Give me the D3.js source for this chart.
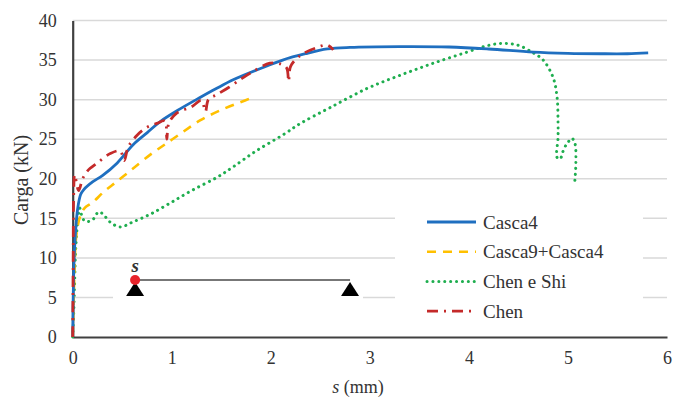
<!DOCTYPE html>
<html><head><meta charset="utf-8">
<script src="https://cdn.jsdelivr.net/npm/d3@7"></script>
<style>body{margin:0;background:#fff}svg{display:block}</style>
</head><body><svg id="c" width="673" height="400"></svg>
<script>
const xTicks=[0,1,2,3,4,5,6];
const yTicks=[0,5,10,15,20,25,30,35,40];
const seriesNames=["Casca4","Casca9+Casca4","Chen e Shi","Chen"];
const casca4=[[0,0],[0.005,5],[0.015,10],[0.03,13.5],[0.05,16.2],[0.08,18],[0.11,18.6],[0.2,19.6],[0.3,20.4],[0.45,22],[0.61,24.3],[0.75,25.8],[0.88,27.2],[1.08,28.8],[1.29,30.3],[1.45,31.4],[1.62,32.5],[1.89,33.9],[2.12,35],[2.35,35.8],[2.57,36.4],[2.8,36.6],[3.3,36.7],[3.8,36.65],[4.2,36.4],[4.65,36.0],[5.0,35.85],[5.33,35.8],[5.6,35.8],[5.81,35.9]];
const casca9=[[0,0],[0.01,5],[0.02,9],[0.03,12],[0.05,14],[0.08,15.4],[0.12,16.3],[0.2,17.0],[0.31,18.3],[0.4,19.2],[0.48,20.0],[0.6,21.2],[0.8,23.2],[0.95,24.5],[1.1,25.8],[1.29,27.4],[1.5,28.7],[1.74,29.9],[1.78,30.1]];
const chenShi=[[0,0],[0.01,3],[0.02,7],[0.03,11],[0.05,14.5],[0.07,16.3],[0.1,15],[0.13,14.6],[0.2,14.8],[0.26,15.8],[0.3,15.6],[0.38,14.5],[0.48,13.9],[0.6,14.5],[0.78,15.5],[0.98,16.9],[1.2,18.5],[1.46,20.2],[1.62,21.5],[1.85,23.5],[2.13,25.6],[2.3,27],[2.6,29],[2.97,31.4],[3.31,33.1],[3.64,34.6],[3.98,36.0],[4.15,36.7],[4.32,37.1],[4.49,36.9],[4.65,35.9],[4.75,35],[4.85,32.8],[4.89,30.3],[4.9,27],[4.9,25.2],[4.89,22.7],[4.92,22.5],[4.96,23.8],[5.0,24.6],[5.04,25.1],[5.07,24.5],[5.08,22],[5.07,19.8]];
const chen=[[0,0],[0.005,10],[0.01,18],[0.02,20.5],[0.06,18.5],[0.1,20],[0.15,21],[0.25,22],[0.38,23.2],[0.48,23.5],[0.52,22.3],[0.56,24],[0.65,25.5],[0.75,26.5],[0.85,27],[0.93,27.3],[0.95,25],[0.97,27],[1.05,28.3],[1.2,29.1],[1.3,29.9],[1.34,28.5],[1.37,30],[1.45,30.6],[1.57,31.5],[1.7,32.6],[1.8,33.4],[1.99,34.6],[2.1,34.5],[2.16,34],[2.18,32.3],[2.2,34.2],[2.3,35.6],[2.45,36.5],[2.57,36.9],[2.63,36.3]];
const supportsX=[0.63,2.8];
const beamLoad=7.2;

const FONT='"Liberation Serif","Liberation Sans",sans-serif';
const svg=d3.select("#c");
const x=d3.scaleLinear().domain([0,6]).range([72.7,667]);
const y=d3.scaleLinear().domain([0,40]).range([337,20.5]);

svg.append("g").selectAll("line").data(yTicks.filter(d=>d>0)).join("line")
 .attr("x1",x(0)).attr("x2",x(6)).attr("y1",d=>y(d)).attr("y2",d=>y(d))
 .attr("stroke","#d9d9d9").attr("stroke-width",1.5);

const xa=svg.append("g").attr("transform",`translate(0,${y(0)})`).call(d3.axisBottom(x).tickValues(xTicks).tickSize(0).tickPadding(14).tickFormat(d3.format("d")));
const ya=svg.append("g").attr("transform",`translate(${x(0)},0)`).call(d3.axisLeft(y).tickValues(yTicks).tickSize(0).tickPadding(16).tickFormat(d3.format("d")));
[xa,ya].forEach(a=>{a.attr("font-family",FONT).attr("font-size",18);a.select(".domain").attr("stroke","#404040").attr("stroke-width",2.2);a.selectAll("text").attr("fill","#333");});

svg.append("rect").attr("x",113).attr("y",262).attr("width",250).attr("height",40).attr("fill","#fff");
svg.append("rect").attr("x",395).attr("y",192).attr("width",248).attr("height",136).attr("fill","#fff");

const line=d3.line().x(d=>x(d[0])).y(d=>y(d[1])).curve(d3.curveCatmullRom.alpha(0.5));
const styles=[
 {data:casca4,color:"#1f6fc0",w:2.8,dash:null,cap:"butt"},
 {data:casca9,color:"#ffc000",w:2.6,dash:"9,7",cap:"butt"},
 {data:chenShi,color:"#1fae4f",w:3,dash:"0.1,5.8",cap:"round"},
 {data:chen,color:"#c42a2a",w:2.8,dash:"11,6,2,6",cap:"butt"}
];
[2,1,0,3].forEach(i=>{const s=styles[i];
 svg.append("path").datum(s.data).attr("d",line).attr("fill","none").attr("stroke",s.color)
  .attr("stroke-width",s.w).attr("stroke-dasharray",s.dash).attr("stroke-linecap",s.cap).attr("stroke-linejoin","round");});

svg.append("line").attr("x1",x(supportsX[0])).attr("x2",x(supportsX[1])).attr("y1",y(beamLoad)).attr("y2",y(beamLoad)).attr("stroke","#777").attr("stroke-width",2);
supportsX.forEach(v=>{const cx=x(v),ty=y(beamLoad)+2;
 svg.append("path").attr("d",`M${cx},${ty} L${cx-9},${ty+14} L${cx+9},${ty+14} Z`).attr("fill","#000");});
svg.append("circle").attr("cx",x(supportsX[0])).attr("cy",y(beamLoad)).attr("r",5).attr("fill","#e8232a");
svg.append("text").attr("x",x(supportsX[0])).attr("y",y(beamLoad)-8).attr("text-anchor","middle").attr("font-family",FONT).attr("font-size",19).attr("font-style","italic").attr("font-weight","bold").attr("fill","#333").text("s");

const lg=svg.append("g").attr("font-family",FONT);
seriesNames.forEach((n,i)=>{const s=styles[i],yy=222+i*29.7;
 lg.append("line").attr("x1",427).attr("x2",476).attr("y1",yy).attr("y2",yy).attr("stroke",s.color).attr("stroke-width",s.w).attr("stroke-dasharray",s.dash).attr("stroke-linecap",s.cap);
 lg.append("text").attr("x",483).attr("y",yy+6.5).attr("font-size",19).attr("fill","#333").text(n);});

const xt=svg.append("text").attr("x",358).attr("y",393).attr("text-anchor","middle").attr("font-family",FONT).attr("font-size",18).attr("fill","#333");
xt.append("tspan").attr("font-style","italic").text("s");
xt.append("tspan").text(" (mm)");
svg.append("text").attr("transform","translate(28,180) rotate(-90)").attr("text-anchor","middle").attr("font-family",FONT).attr("font-size",20).attr("fill","#333").text("Carga (kN)");
</script></body></html>
